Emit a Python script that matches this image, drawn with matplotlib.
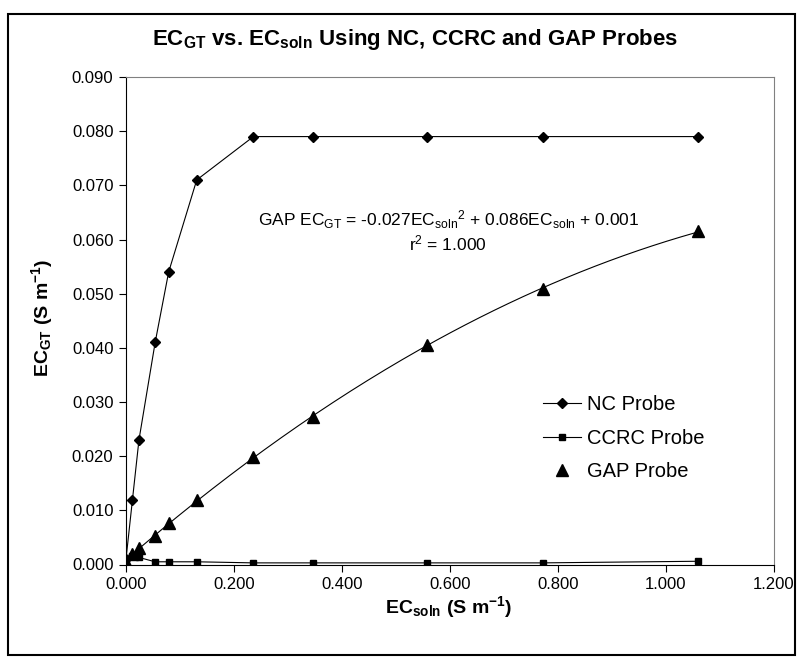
import numpy as np
import matplotlib
matplotlib.use("Agg")
import matplotlib.pyplot as plt
from matplotlib.lines import Line2D
from matplotlib.patches import Rectangle

plt.rcParams['font.family'] = ['Liberation Sans', 'DejaVu Sans']
plt.rcParams['mathtext.fontset'] = 'custom'
plt.rcParams['mathtext.rm'] = 'Liberation Sans'
plt.rcParams['mathtext.it'] = 'Liberation Sans:italic'
plt.rcParams['mathtext.bf'] = 'Liberation Sans:bold'

# EC of solution (S m-1)
ec_soln = [0.000, 0.012, 0.024, 0.054, 0.079, 0.131, 0.236, 0.346, 0.557, 0.772, 1.060]
# EC GT for each probe
nc = [0.001, 0.012, 0.023, 0.041, 0.054, 0.071, 0.079, 0.079, 0.079, 0.079, 0.079]
ccrc = [0.001, 0.0015, 0.0013, 0.0005, 0.0005, 0.0005, 0.0003, 0.0003, 0.0003, 0.0003, 0.0006]
gap = [0.0005, 0.002, 0.003, 0.0053, 0.0076, 0.012, 0.0199, 0.0272, 0.0405, 0.0509, 0.0615]

fig = plt.figure(figsize=(8.01, 6.62), dpi=100)
ax = fig.add_axes([126/801, 1-564.5/662, (774-126)/801, (564.5-77)/662])

# outer chart border
fig.patches.append(Rectangle((8/801, 1-655/662), 787/801, 641/662, transform=fig.transFigure,
                             fill=False, edgecolor='black', linewidth=1.5))

ax.plot(ec_soln, nc, 'k-', marker='D', markersize=5, linewidth=0.8)
ax.plot(ec_soln, ccrc, 'k-', marker='s', markersize=5, linewidth=0.8)
ax.plot(ec_soln, gap, 'k^', markersize=9, linestyle='none')

# polynomial trendline for GAP probe
c = np.polyfit(ec_soln, gap, 2)
xs = np.linspace(0, max(ec_soln), 200)
ax.plot(xs, np.polyval(c, xs), 'k-', linewidth=0.8)

ax.set_xlim(0, 1.2)
ax.set_ylim(0, 0.09)
ax.set_xticks(np.arange(0, 1.21, 0.2))
ax.set_yticks(np.arange(0, 0.0901, 0.01))
ax.xaxis.set_major_formatter(matplotlib.ticker.FormatStrFormatter('%.3f'))
ax.yaxis.set_major_formatter(matplotlib.ticker.FormatStrFormatter('%.3f'))
ax.tick_params(direction='out', length=5, width=0.8, labelsize=12, pad=4)
for s in ['top', 'right']:
    ax.spines[s].set_color('#808080')
for s in ['left', 'bottom']:
    ax.spines[s].set_color('black')

fig.text(415/801, 1-40/662, r'EC$_{\mathregular{GT}}$ vs. EC$_{\mathregular{soln}}$ Using NC, CCRC and GAP Probes',
         ha='center', va='center', fontsize=16, fontweight='bold')
fig.text(449/801, 1-607/662, r'EC$_{\mathregular{soln}}$ (S m$^{\mathregular{-1}}$)',
         ha='center', va='center', fontsize=14, fontweight='bold')
fig.text(42/801, 1-318/662, r'EC$_{\mathregular{GT}}$ (S m$^{\mathregular{-1}}$)',
         ha='center', va='center', fontsize=14, fontweight='bold', rotation=90)

fig.text(449/801, 1-220/662,
         r'GAP EC$_{\mathregular{GT}}$ = -0.027EC$_{\mathregular{soln}}$$^{\mathregular{2}}$ + 0.086EC$_{\mathregular{soln}}$ + 0.001',
         ha='center', va='center', fontsize=12.5)
fig.text(448/801, 1-243/662, r'r$^{\mathregular{2}}$ = 1.000', ha='center', va='center', fontsize=12.5)

handles = [Line2D([], [], color='k', marker='D', markersize=5, linewidth=0.8),
           Line2D([], [], color='k', marker='s', markersize=5, linewidth=0.8),
           Line2D([], [], color='k', marker='^', markersize=9, linestyle='none')]
ax.legend(handles, ['NC Probe', 'CCRC Probe', 'GAP Probe'], frameon=False, fontsize=14.5,
          loc='upper left', bbox_to_anchor=(525/801, 1-377/662), bbox_transform=fig.transFigure,
          handlelength=1.9, handletextpad=0.3, labelspacing=0.72)

fig.savefig('out.png', dpi=100)
